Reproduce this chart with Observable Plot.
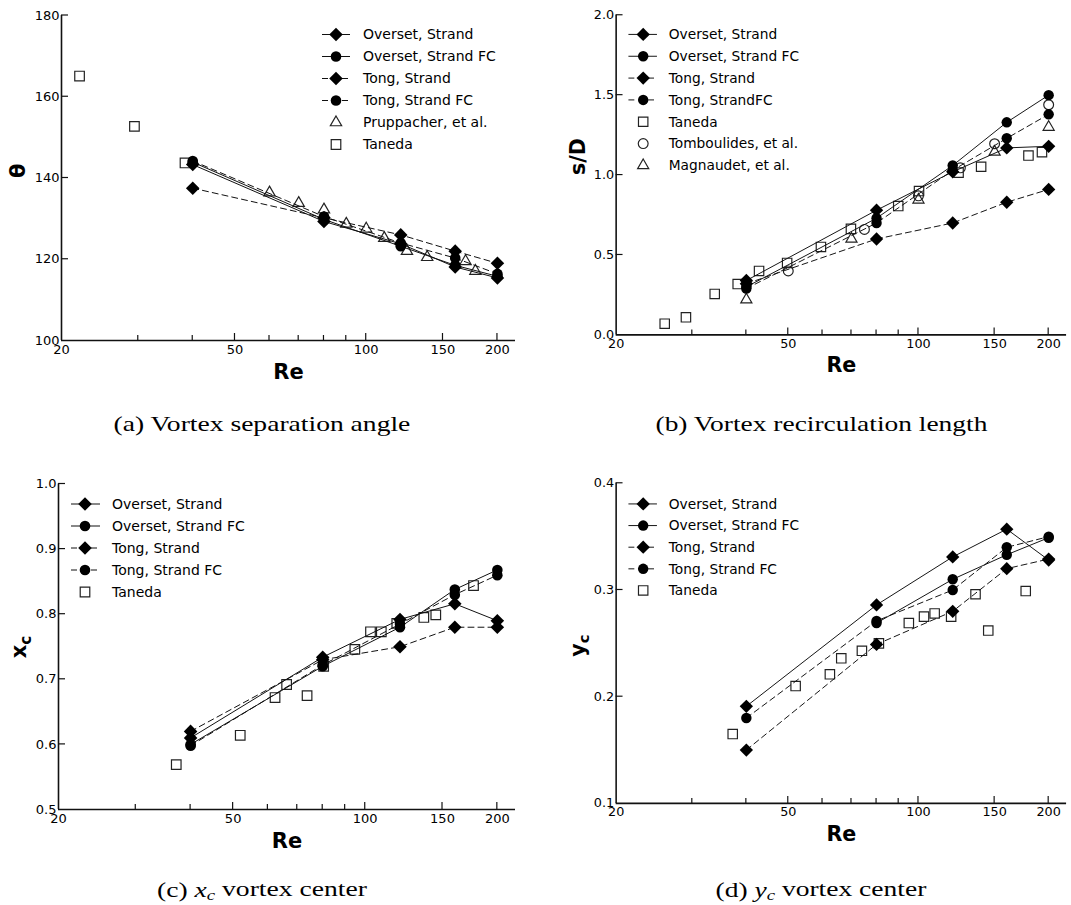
<!DOCTYPE html>
<html>
<head>
<meta charset="utf-8">
<script src="https://cdn.jsdelivr.net/npm/d3@7"></script>
<script src="https://cdn.jsdelivr.net/npm/@observablehq/plot@0.6"></script>
<style>
  html, body { margin: 0; padding: 0; background: #fff; overflow: hidden; }
  #page { position: relative; width: 1071px; height: 905px; background: #fff; }
  .panel { position: absolute; }
  .panel svg { display: block; }
  #captions { position: absolute; left: 0; top: 0; pointer-events: none; }
</style>
</head>
<body>
<div id="page"></div>
<script>
// Reynolds numbers of the strand-grid simulations
const reSim = [40, 80, 120, 160, 200];
// Log-axis ticks
const reMajor = [20, 50, 100, 150, 200];
const reMinor = [30, 40, 60, 70, 80, 90];

// (a) Vortex separation angle θ
const thetaOversetStrand   = [143.3, 129.3, 123.8, 118.1, 115.4];
const thetaOversetStrandFC = [143.9, 129.8, 123.2, 118.5, 115.8];
const thetaTongStrand      = [137.5, 130.2, 126.0, 122.0, 119.0];
const thetaTongStrandFC    = [144.2, 130.5, 124.0, 120.3, 116.4];
const thetaPruppacherRe = [60, 70, 80, 90, 100, 110, 124, 138, 169, 178];
const thetaPruppacher   = [136.4, 133.8, 132.2, 128.7, 127.5, 125.2, 122.0, 120.5, 119.5, 117.1];
const thetaTanedaRe = [22.0, 29.4, 38.4];
const thetaTaneda   = [165.1, 152.7, 143.7];
const thetaTicks = [100, 120, 140, 160, 180];

// (b) Vortex recirculation length s/D
const sdOversetStrand   = [0.34, 0.78, 1.02, 1.17, 1.18];
const sdOversetStrandFC = [0.30, 0.73, 1.06, 1.33, 1.50];
const sdTongStrand      = [0.32, 0.60, 0.70, 0.83, 0.91];
const sdTongStrandFC    = [0.29, 0.70, 1.03, 1.23, 1.38];
const sdTanedaRe = [25.9, 29.0, 33.8, 38.2, 42.8, 49.7, 59.5, 69.8, 89.8, 100.3, 123.8, 139.6, 179.6, 193];
const sdTaneda   = [0.07, 0.11, 0.256, 0.318, 0.40, 0.45, 0.55, 0.663, 0.806, 0.90, 1.015, 1.052, 1.122, 1.143];
const sdTomboulidesRe = [50, 75, 100, 125, 150, 200];
const sdTomboulides   = [0.40, 0.66, 0.87, 1.045, 1.196, 1.44];
const sdMagnaudetRe = [40, 70, 100, 150, 200];
const sdMagnaudet   = [0.22, 0.60, 0.845, 1.145, 1.30];
const sdTicks = [0, 0.5, 1.0, 1.5, 2.0];

// (c) x_c vortex center
const xcOversetStrand   = [0.610, 0.734, 0.792, 0.816, 0.790];
const xcOversetStrandFC = [0.600, 0.720, 0.780, 0.838, 0.868];
const xcTongStrand      = [0.620, 0.730, 0.750, 0.780, 0.780];
const xcTongStrandFC    = [0.598, 0.722, 0.785, 0.830, 0.860];
const xcTanedaRe = [37.1, 51.9, 62.3, 66.2, 73.7, 80.4, 94.7, 102.8, 108.8, 118, 136, 144.8, 176.5];
const xcTaneda   = [0.569, 0.614, 0.672, 0.692, 0.675, 0.720, 0.746, 0.773, 0.773, 0.786, 0.795, 0.799, 0.844];
const xcTicks = [0.5, 0.6, 0.7, 0.8, 0.9, 1.0];

// (d) y_c vortex center
const ycOversetStrand   = [0.191, 0.286, 0.331, 0.357, 0.328];
const ycOversetStrandFC = [null, 0.269, 0.310, 0.333, 0.349];
const ycTongStrand      = [0.150, 0.249, 0.280, 0.320, 0.329];
const ycTongStrandFC    = [0.180, 0.271, 0.300, 0.340, 0.350];
const ycTanedaRe = [37.2, 52, 62.4, 66.3, 74, 81, 95, 103, 109, 119, 135.5, 145, 177];
const ycTaneda   = [0.165, 0.210, 0.221, 0.236, 0.243, 0.250, 0.269, 0.275, 0.278, 0.275, 0.296, 0.262, 0.299];
const ycTicks = [0.1, 0.2, 0.3, 0.4];

const FONT = "'DejaVu Sans', Verdana, sans-serif";
const INK = "#111";

// marker radii (Plot r units)
const filledR = {diamond2: 6.1, circle: 5.3};
const openR = {square: 5.4, triangle: 4.2, circle: 5.0};

const simSeries = (name1, v1, name2, v2, name3, v3, name4, v4) => [
  {name: name1, re: reSim, v: v1, symbol: "diamond2", dashed: false},
  {name: name2, re: reSim, v: v2, symbol: "circle", dashed: false},
  {name: name3, re: reSim, v: v3, symbol: "diamond2", dashed: true},
  {name: name4, re: reSim, v: v4, symbol: "circle", dashed: true}
];

const rows = s => s.re.map((re, i) => ({re, v: s.v[i]})).filter(d => d.v != null);

function symbolPath(symbol, r) {
  const type = {diamond2: d3.symbolDiamond2, square: d3.symbolSquare, triangle: d3.symbolTriangle}[symbol];
  return d3.symbol(type, Math.PI * r * r)();
}

function drawPanel(cfg) {
  const marks = [
    Plot.axisX(reMajor, {tickSize: 0, tickPadding: 4, tickFormat: d => String(d), label: null, fontSize: 13}),
    Plot.axisY(cfg.yTicks, {tickSize: 0, tickPadding: 2, tickFormat: d3.format(cfg.yFormat), label: null, fontSize: 13}),
    Plot.ruleX([20], {stroke: INK, strokeWidth: 1.6}),
    Plot.ruleY([cfg.yDomain[0]], {stroke: INK, strokeWidth: 1.6})
  ];
  for (const e of cfg.experiments) {
    marks.push(Plot.dot(rows(e), {x: "re", y: "v", symbol: e.symbol, r: openR[e.symbol], stroke: "#222", strokeWidth: 1.2, fill: "none"}));
  }
  for (const s of cfg.series) {
    marks.push(Plot.line(rows(s), {x: "re", y: "v", stroke: INK, strokeWidth: 1, strokeDasharray: s.dashed ? "6,4" : undefined}));
  }
  for (const s of cfg.series) {
    marks.push(Plot.dot(rows(s), {x: "re", y: "v", symbol: s.symbol, r: filledR[s.symbol], fill: "#000", stroke: "none"}));
  }
  marks.push(Plot.text(["Re"], {frameAnchor: "bottom", lineAnchor: "bottom", dy: 38, fontSize: 21, fontWeight: "bold", fill: "#000"}));
  if (cfg.yLabel) {
    marks.push(Plot.text([cfg.yLabel], {frameAnchor: "left", rotate: -90, dx: cfg.yLabelDx, fontSize: 21, fontWeight: "bold", fill: "#000"}));
  }

  const svg = Plot.plot({
    width: cfg.width,
    height: cfg.height,
    marginLeft: cfg.marginLeft,
    marginRight: cfg.marginRight,
    marginTop: cfg.marginTop,
    marginBottom: cfg.marginBottom,
    x: {type: "log", domain: [20, 220]},
    y: {domain: cfg.yDomain},
    style: {fontFamily: FONT, fontSize: "13px", color: "#000", background: "#fff", overflow: "visible"},
    marks
  });

  const root = d3.select(svg);
  const sx = svg.scale("x"), sy = svg.scale("y");
  const xAxisY = sy.apply(cfg.yDomain[0]);
  const yAxisX = sx.apply(20);

  // inward tick marks on both axes
  const ticks = root.append("g").attr("stroke", INK).attr("stroke-width", 1.2);
  for (const t of reMajor.slice(1)) {
    const px = sx.apply(t);
    ticks.append("line").attr("x1", px).attr("x2", px).attr("y1", xAxisY).attr("y2", xAxisY - 7);
  }
  for (const t of reMinor) {
    const px = sx.apply(t);
    ticks.append("line").attr("x1", px).attr("x2", px).attr("y1", xAxisY).attr("y2", xAxisY - 5);
  }
  for (const t of cfg.yTicks.slice(1)) {
    const py = sy.apply(t);
    ticks.append("line").attr("x1", yAxisX).attr("x2", yAxisX + 7).attr("y1", py).attr("y2", py);
  }

  // subscripted y label (x_c, y_c)
  if (cfg.ySubLabel) {
    const t = root.append("text")
      .attr("transform", `translate(${cfg.ySubLabel.x},${cfg.ySubLabel.y}) rotate(-90)`)
      .attr("text-anchor", "middle")
      .attr("dy", "0.35em")
      .attr("font-family", FONT)
      .attr("font-weight", "bold")
      .attr("font-size", 21)
      .attr("fill", "#000");
    t.append("tspan").text(cfg.ySubLabel.base);
    t.append("tspan").attr("font-size", 15).attr("dy", "0.3em").text(cfg.ySubLabel.sub);
  }

  // legend
  const lg = root.append("g")
    .attr("font-family", FONT).attr("font-size", 14).attr("fill", "#000")
    .attr("text-anchor", "start");
  const items = [
    ...cfg.series.map(s => ({...s, line: true, filled: true})),
    ...cfg.experiments.map(e => ({...e, line: false, filled: false}))
  ];
  items.forEach((it, i) => {
    const y = cfg.legend.y + i * cfg.legend.dy;
    const {x0, x1, xm, xt} = cfg.legend;
    if (it.line) {
      lg.append("line").attr("x1", x0).attr("x2", x1).attr("y1", y).attr("y2", y)
        .attr("stroke", INK).attr("stroke-width", 1)
        .attr("stroke-dasharray", it.dashed ? "6,4" : null);
    }
    if (it.symbol === "circle") {
      lg.append("circle").attr("cx", xm).attr("cy", y)
        .attr("r", it.filled ? filledR.circle : openR.circle)
        .attr("fill", it.filled ? "#000" : "none")
        .attr("stroke", it.filled ? "none" : "#222").attr("stroke-width", 1.2);
    } else {
      lg.append("path").attr("transform", `translate(${xm},${y})`)
        .attr("d", symbolPath(it.symbol, it.filled ? filledR[it.symbol] : openR[it.symbol]))
        .attr("fill", it.filled ? "#000" : "none")
        .attr("stroke", it.filled ? "none" : "#222").attr("stroke-width", 1.2);
    }
    lg.append("text").attr("x", xt).attr("y", y).attr("dy", "0.35em")
      .attr("text-anchor", "start").text(it.name);
  });

  const holder = document.createElement("div");
  holder.className = "panel";
  holder.style.left = cfg.left + "px";
  holder.style.top = cfg.top + "px";
  holder.appendChild(svg);
  document.getElementById("page").appendChild(holder);
}

// (a)
drawPanel({
  left: 0, top: 0, width: 535, height: 390,
  marginLeft: 61, marginRight: 20, marginTop: 15, marginBottom: 50,
  yDomain: [100, 180], yTicks: thetaTicks, yFormat: "d",
  yLabel: "θ", yLabelDx: -43,
  series: simSeries("Overset, Strand", thetaOversetStrand, "Overset, Strand FC", thetaOversetStrandFC,
                    "Tong, Strand", thetaTongStrand, "Tong, Strand FC", thetaTongStrandFC),
  experiments: [
    {name: "Pruppacher, et al.", re: thetaPruppacherRe, v: thetaPruppacher, symbol: "triangle"},
    {name: "Taneda", re: thetaTanedaRe, v: thetaTaneda, symbol: "square"}
  ],
  legend: {x0: 322, x1: 350, xm: 336, xt: 363, y: 34.5, dy: 22}
});

// (b)
drawPanel({
  left: 535, top: 0, width: 545, height: 390,
  marginLeft: 82, marginRight: 5, marginTop: 15, marginBottom: 50,
  yDomain: [0, 2], yTicks: sdTicks, yFormat: ".1f",
  yLabel: "s/D", yLabelDx: -38,
  series: simSeries("Overset, Strand", sdOversetStrand, "Overset, Strand FC", sdOversetStrandFC,
                    "Tong, Strand", sdTongStrand, "Tong, StrandFC", sdTongStrandFC),
  experiments: [
    {name: "Taneda", re: sdTanedaRe, v: sdTaneda, symbol: "square"},
    {name: "Tomboulides, et al.", re: sdTomboulidesRe, v: sdTomboulides, symbol: "circle"},
    {name: "Magnaudet, et al.", re: sdMagnaudetRe, v: sdMagnaudet, symbol: "triangle"}
  ],
  legend: {x0: 95, x1: 124, xm: 110, xt: 136, y: 35, dy: 22.2}
});

// (c)
drawPanel({
  left: 0, top: 440, width: 535, height: 420,
  marginLeft: 58, marginRight: 20, marginTop: 43.5, marginBottom: 51,
  yDomain: [0.5, 1.0], yTicks: xcTicks, yFormat: ".1f",
  ySubLabel: {x: 19, y: 207, base: "x", sub: "c"},
  series: simSeries("Overset, Strand", xcOversetStrand, "Overset, Strand FC", xcOversetStrandFC,
                    "Tong, Strand", xcTongStrand, "Tong, Strand FC", xcTongStrandFC),
  experiments: [
    {name: "Taneda", re: xcTanedaRe, v: xcTaneda, symbol: "square"}
  ],
  legend: {x0: 71, x1: 100, xm: 85, xt: 112, y: 64, dy: 22}
});

// (d)
drawPanel({
  left: 535, top: 440, width: 545, height: 420,
  marginLeft: 82, marginRight: 5, marginTop: 43.5, marginBottom: 51,
  yDomain: [0.1, 0.4], yTicks: ycTicks, yFormat: ".1f",
  ySubLabel: {x: 43, y: 209, base: "y", sub: "c"},
  series: simSeries("Overset, Strand", ycOversetStrand, "Overset, Strand FC", ycOversetStrandFC,
                    "Tong, Strand", ycTongStrand, "Tong, Strand FC", ycTongStrandFC),
  experiments: [
    {name: "Taneda", re: ycTanedaRe, v: ycTaneda, symbol: "square"}
  ],
  legend: {x0: 95, x1: 124, xm: 110, xt: 136, y: 65, dy: 22}
});

// Sub-figure captions
const captions = [
  {cx: 262, y: 431, w: 297, parts: [["(a) Vortex separation angle"]]},
  {cx: 821.5, y: 431, w: 332, parts: [["(b) Vortex recirculation length"]]},
  {cx: 262, y: 897, w: 210, parts: [["(c) "], ["x", "i"], ["c", "sub"], [" vortex center"]]},
  {cx: 821, y: 897, w: 211, parts: [["(d) "], ["y", "i"], ["c", "sub"], [" vortex center"]]}
];
const capSvg = d3.select("#page").append("svg")
  .attr("id", "captions").attr("width", 1071).attr("height", 905);
for (const c of captions) {
  const t = capSvg.append("text")
    .attr("font-family", "'Liberation Serif', 'Times New Roman', serif")
    .attr("font-size", 22).attr("fill", "#000");
  for (const [txt, kind] of c.parts) {
    const span = t.append("tspan").text(txt);
    if (kind === "i") span.attr("font-style", "italic");
    if (kind === "sub") span.attr("font-style", "italic").attr("font-size", 15).attr("dy", "0.2em");
    if (kind === undefined && c.parts.length > 1 && txt.startsWith(" ")) span.attr("dy", "-0.2em");
  }
  const w = t.node().getComputedTextLength();
  const s = c.w / w;
  t.attr("transform", `translate(${c.cx - c.w / 2},${c.y}) scale(${s},1)`);
}
</script>
</body>
</html>
